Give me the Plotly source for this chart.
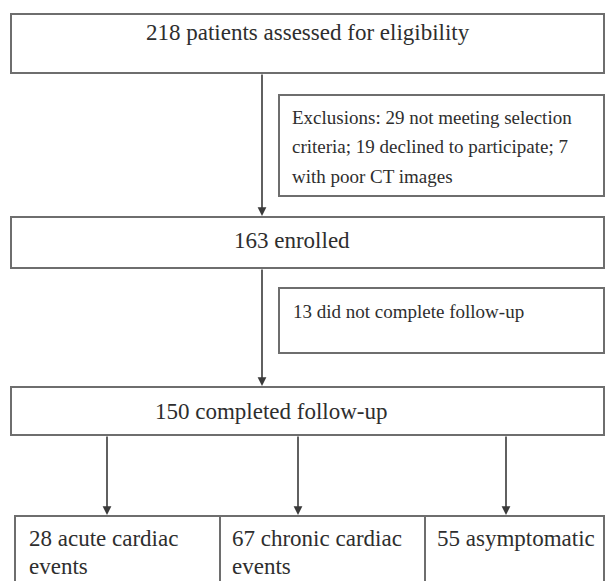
import plotly.graph_objects as go

# ---- data (counts in the flow) ----
assessed = 218
excl_not_meeting = 29
excl_declined = 19
excl_poor_ct = 7
enrolled = 163
lost_followup = 13
completed = 150
outcome_counts = [28, 67, 55]

# ---- texts ----
t_assessed = f"{assessed} patients assessed for eligibility"
t_excl_lines = [
    f"Exclusions: {excl_not_meeting} not meeting selection",
    f"criteria; {excl_declined} declined to participate; {excl_poor_ct}",
    "with poor CT images",
]
t_enrolled = f"{enrolled} enrolled"
t_lost = f"{lost_followup} did not complete follow-up"
t_completed = f"{completed} completed follow-up"
outcome_lines = [
    [f"{outcome_counts[0]} acute cardiac", "events"],
    [f"{outcome_counts[1]} chronic cardiac", "events"],
    [f"{outcome_counts[2]} asymptomatic"],
]

W, H = 606, 581
FONT = "Liberation Serif"
BOX_COL = "#6e6e6e"
ARR_COL = "#3a3a3a"
TXT_COL = "#2e2e2e"

fig = go.Figure()
shapes = []
annotations = []

def box(x0, y0, x1, y1):
    shapes.append(dict(type="rect", xref="x", yref="y", x0=x0, y0=y0, x1=x1, y1=y1,
                       line=dict(color=BOX_COL, width=2), fillcolor="rgba(0,0,0,0)", layer="above"))

def text(x, y, s, size, anchor="left"):
    annotations.append(dict(x=x, y=y, xref="x", yref="y", text=s, showarrow=False,
                            xanchor=anchor, yanchor="middle",
                            font=dict(family=FONT, size=size, color=TXT_COL)))

def arrow(x, y_from, y_to):
    annotations.append(dict(x=x, y=y_to, ax=x, ay=y_from, xref="x", yref="y",
                            axref="x", ayref="y", text="", showarrow=True,
                            arrowhead=2, arrowsize=1.1, arrowwidth=1.6,
                            arrowcolor=ARR_COL, standoff=0, startstandoff=0))

# top box
box(11, 14, 604, 73)
text(308, 32, t_assessed, 23, "center")
arrow(262, 73, 216)

# exclusions box
box(279, 95, 604, 196)
for i, ln in enumerate(t_excl_lines):
    text(290, 117 + 29.5 * i, ln, 19)

# enrolled
box(11, 217, 604, 268)
text(232, 240, t_enrolled, 23)
arrow(262, 268, 386)

# lost
box(279, 288, 604, 353)
text(291, 311, t_lost, 19)

# completed
box(11, 387, 604, 435)
text(153, 411, t_completed, 23)

# outcomes
edges = [15, 220, 425, 604]
arrow_x = [107, 298, 506]
text_x = [27, 230, 435]
for i in range(3):
    box(edges[i], 516, edges[i + 1], 610)
    arrow(arrow_x[i], 435, 515)
    for j, ln in enumerate(outcome_lines[i]):
        text(text_x[i], 538 + 28 * j, ln, 23)

fig.update_layout(
    width=W, height=H, margin=dict(l=0, r=0, t=0, b=0),
    paper_bgcolor="white", plot_bgcolor="white",
    xaxis=dict(range=[0, W], visible=False, fixedrange=True),
    yaxis=dict(range=[H, 0], visible=False, fixedrange=True),
    shapes=shapes, annotations=annotations, showlegend=False,
)
fig.write_html(
    "out.html",
    config={"displayModeBar": False},
    post_script="document.body.style.margin='0';document.body.style.overflow='hidden';",
)
